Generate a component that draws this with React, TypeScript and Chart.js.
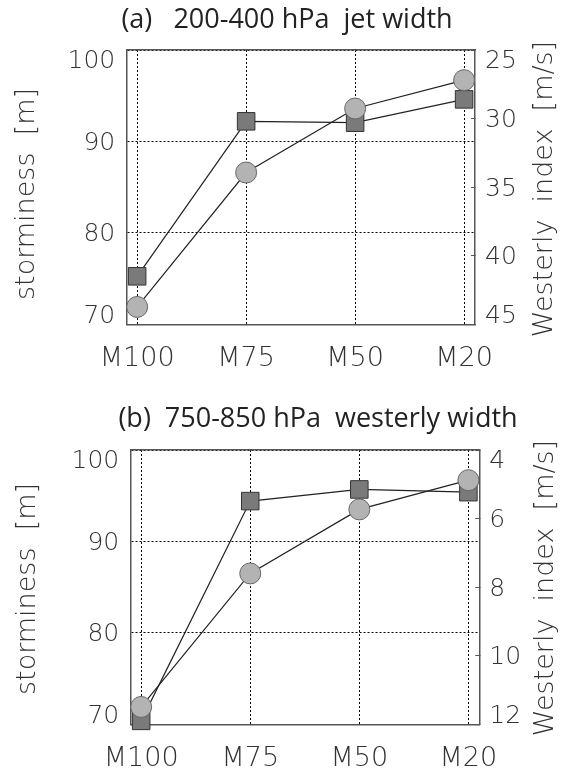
import React, { useEffect, useRef } from 'react';
import { Chart, registerables } from 'chart.js';

Chart.register(...registerables);

// ---- data ----
const categories = ['M100', 'M75', 'M50', 'M20'];
const stormA = [71.9, 86.6, 93.6, 96.7];
const westerlyA = [41.5, 30.2, 30.3, 28.6];
const stormB = [71.9, 86.5, 93.5, 96.7];
const westerlyB = [11.9, 5.49, 5.15, 5.23];
const stormTicks = [70, 80, 90, 100];
const westerlyTicksA = [25, 30, 35, 40, 45];
const westerlyTicksB = [4, 6, 8, 10, 12];
const titleA = '(a)   200-400 hPa  jet width';
const titleB = '(b)  750-850 hPa  westerly width';
const leftTitle = 'storminess  [m]';
const rightTitle = 'Westerly  index  [m/s]';

const TICK_FONT = { family: "'DejaVu Sans', sans-serif", size: 25, weight: '200' as any, lineHeight: 0.76 };
const XTICK_FONT = { family: "'DejaVu Sans', sans-serif", size: 27, weight: '200' as any };
const AXIS_TITLE_FONT = "200 27px 'DejaVu Sans', sans-serif";
const TITLE_FONT = { family: "'Open Sans', sans-serif", size: 27, weight: 'normal' as any };

const axisTitlesPlugin = {
  id: 'axisTitles',
  afterDraw(chart: any, _args: any, opts: any) {
    const ctx = chart.ctx;
    ctx.save();
    ctx.font = AXIS_TITLE_FONT;
    ctx.fillStyle = '#333';
    ctx.textAlign = 'center';
    ctx.textBaseline = 'middle';
    for (const it of opts.items || []) {
      ctx.save();
      ctx.translate(it.x, it.y);
      ctx.rotate(-Math.PI / 2);
      ctx.fillText(it.text, 0, 0);
      ctx.restore();
    }
    ctx.restore();
  },
};

// extreme labels sit slightly inside the frame (as in the original figure)
function edgeLabel(reversed: boolean) {
  return (v: any, i: number, ticks: any[]) => {
    const s = String(v);
    const isFirst = i === 0;
    const isLast = i === ticks.length - 1;
    const atTop = reversed ? isFirst : isLast;
    const atBottom = reversed ? isLast : isFirst;
    if (atTop) return ['', s];
    if (atBottom) return [s, ''];
    return s;
  };
}

type PanelSpec = {
  height: number;
  title: string;
  storm: number[];
  westerly: number[];
  wMin: number;
  wMax: number;
  wTicks: number[];
  area: { left: number; right: number; top: number; bottom: number };
  padL: number;
  padR: number;
  titlePadTop: number;
  titlePadBottom: number;
  leftTitlePos: { x: number; y: number };
  rightTitlePos: { x: number; y: number };
};

function makeConfig(p: PanelSpec): any {
  const W = 564;
  const frame = '#555';
  return {
    type: 'line',
    data: {
      datasets: [
        {
          label: 'storminess',
          data: p.storm.map((v, i) => ({ x: i, y: v })),
          yAxisID: 'y',
          xAxisID: 'x',
          borderColor: '#222',
          borderWidth: 1.2,
          pointStyle: 'circle',
          pointRadius: 10.5,
          pointBackgroundColor: '#b3b3b3',
          pointBorderColor: '#666',
          pointBorderWidth: 1,
          clip: false,
        },
        {
          label: 'westerly',
          data: p.westerly.map((v, i) => ({ x: i, y: v })),
          yAxisID: 'y2',
          xAxisID: 'x',
          borderColor: '#222',
          borderWidth: 1.2,
          pointStyle: 'rect',
          pointRadius: 12.4,
          pointBackgroundColor: '#7a7a7a',
          pointBorderColor: '#333',
          pointBorderWidth: 1,
          clip: false,
        },
      ],
    },
    options: {
      animation: false,
      responsive: false,
      devicePixelRatio: 1,
      events: [],
      layout: { padding: { left: p.padL, right: p.padR, top: 0, bottom: 0 } },
      plugins: {
        legend: { display: false },
        tooltip: { enabled: false },
        title: {
          display: true,
          text: p.title,
          color: '#222',
          font: TITLE_FONT,
          padding: { top: p.titlePadTop, bottom: p.titlePadBottom },
        },
        axisTitles: {
          items: [
            { text: leftTitle, x: p.leftTitlePos.x, y: p.leftTitlePos.y },
            { text: rightTitle, x: p.rightTitlePos.x, y: p.rightTitlePos.y },
          ],
        },
      },
      scales: {
        x: {
          type: 'linear',
          position: 'bottom',
          min: -0.096,
          max: 3.1,
          afterBuildTicks: (s: any) => {
            s.ticks = categories.map((_, i) => ({ value: i }));
          },
          afterFit: (s: any) => {
            s.height = p.height - p.area.bottom;
          },
          ticks: {
            callback: (v: any) => categories[Math.round(v)],
            font: XTICK_FONT,
            color: '#333',
            padding: 18,
            maxRotation: 0,
            minRotation: 0,
            autoSkip: false,
          },
          grid: { color: '#000', lineWidth: 1, drawTicks: false },
          border: { display: true, color: frame, width: 1.5, dash: [2, 2] },
        },
        xTop: {
          type: 'linear',
          position: 'top',
          min: -0.096,
          max: 3.1,
          afterFit: (s: any) => {
            s.height = 0;
          },
          ticks: { display: false },
          grid: { display: false, drawTicks: false },
          border: { display: true, color: frame, width: 1.5 },
        },
        y: {
          type: 'linear',
          position: 'left',
          min: 70,
          max: 100,
          afterBuildTicks: (s: any) => {
            s.ticks = stormTicks.map((v) => ({ value: v }));
          },
          afterFit: (s: any) => {
            s.width = p.area.left - p.padL;
          },
          ticks: { font: TICK_FONT, color: '#333', padding: 11.5, labelOffset: 2, callback: edgeLabel(false) },
          grid: { color: '#000', lineWidth: 1, drawTicks: false },
          border: { display: true, color: frame, width: 1.5, dash: [2, 2] },
        },
        y2: {
          type: 'linear',
          position: 'right',
          reverse: true,
          min: p.wMin,
          max: p.wMax,
          afterBuildTicks: (s: any) => {
            s.ticks = p.wTicks.map((v) => ({ value: v }));
          },
          afterFit: (s: any) => {
            s.width = W - p.padR - p.area.right;
          },
          ticks: { font: TICK_FONT, color: '#333', padding: 14, labelOffset: 2, callback: edgeLabel(true) },
          grid: {
            drawOnChartArea: false,
            drawTicks: true,
            tickLength: -4,
            tickColor: frame,
            tickWidth: 1,
          },
          border: { display: true, color: frame, width: 1.5 },
        },
      },
    },
    plugins: [axisTitlesPlugin],
  };
}

const panelA: PanelSpec = {
  height: 385,
  title: titleA,
  storm: stormA,
  westerly: westerlyA,
  wMin: 25,
  wMax: 45,
  wTicks: westerlyTicksA,
  area: { left: 126.7, right: 475, top: 50, bottom: 324.3 },
  padL: 10,
  padR: 0,
  titlePadTop: 3.8,
  titlePadBottom: 13.8,
  leftTitlePos: { x: 27, y: 194 },
  rightTitlePos: { x: 545, y: 189 },
};

const panelB: PanelSpec = {
  height: 388,
  title: titleB,
  storm: stormB,
  westerly: westerlyB,
  wMin: 4,
  wMax: 12,
  wTicks: westerlyTicksB,
  area: { left: 130.7, right: 479.3, top: 65, bottom: 339.3 },
  padL: 72,
  padR: 0,
  titlePadTop: 17.8,
  titlePadBottom: 14.8,
  leftTitlePos: { x: 28, y: 204 },
  rightTitlePos: { x: 546, y: 203 },
};

function Panel({ spec, top }: { spec: PanelSpec; top: number }) {
  const ref = useRef<HTMLCanvasElement | null>(null);
  useEffect(() => {
    if (!ref.current) return;
    const chart = new Chart(ref.current, makeConfig(spec));
    return () => chart.destroy();
  }, [spec]);
  return (
    <canvas
      ref={ref}
      width={564}
      height={spec.height}
      style={{ position: 'absolute', left: 0, top, width: 564, height: spec.height, display: 'block' }}
    />
  );
}

export default function App() {
  return (
    <div style={{ position: 'absolute', left: 0, top: 0, width: 564, height: 773, background: '#fff' }}>
      <Panel spec={panelA} top={0} />
      <Panel spec={panelB} top={385} />
    </div>
  );
}
